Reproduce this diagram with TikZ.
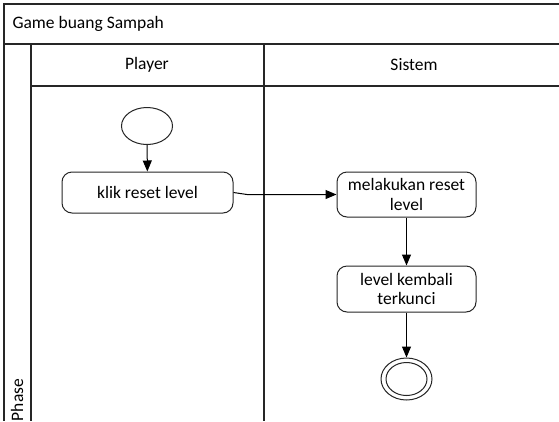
\documentclass[tikz,border=0pt]{standalone}
\usepackage{fontspec}
\setmainfont{Carlito}
\usetikzlibrary{arrows.meta,shapes.geometric}
\begin{document}
\begin{tikzpicture}[x=1pt,y=-1pt,
  lane/.style={draw=black!85,line width=1.3pt},
  act/.style={draw=black!85,line width=1pt,rounded corners=10pt,align=center,font=\fontsize{17.5}{19.5}\selectfont},
  lbl/.style={font=\fontsize{17.5}{19.5}\selectfont},
  flow/.style={draw=black,line width=1pt,-{Triangle[length=11pt,width=9pt]}}]
\useasboundingbox (0,0) rectangle (559,421);
\fill[white] (0,0) rectangle (559,421);
% swimlane frame
\draw[lane] (559,4) -- (4,4) -- (4,421);
\draw[lane] (4,44) -- (559,44);
\draw[lane] (31,86) -- (559,86);
\draw[lane] (31,44) -- (31,421);
\draw[lane] (264,44) -- (264,421);
\node[lbl,anchor=west] (title) at (9,24) {Game buang Sampah};
\node[lbl] (player) at (147,65) {Player};
\node[lbl] (sistem) at (414,65) {Sistem};
\node[lbl,rotate=90] (phase) at (17,400) {Phase};
% nodes
\node[draw=black!85,line width=1pt,ellipse,minimum width=51pt,minimum height=37pt,inner sep=0pt] (start) at (147,126) {};
\node[act,minimum width=171pt,minimum height=41pt] (klik) at (147.5,192.5) {klik reset level};
\node[act,minimum width=139pt,minimum height=45pt,inner sep=2pt] (reset) at (406.5,194.5) {melakukan reset\\level};
\node[act,minimum width=139pt,minimum height=46pt,inner sep=2pt] (kunci) at (406.5,289) {level kembali\\terkunci};
\node[draw=black!85,line width=1pt,ellipse,minimum width=51pt,minimum height=42pt,inner sep=0pt] (end) at (406.5,379) {};
\node[draw=black!85,line width=1pt,ellipse,minimum width=41pt,minimum height=33pt,inner sep=0pt] (endin) at (406.5,379) {};
\coordinate (bend) at (247,194.5);
% connectors
\draw[flow] (start) -- (klik);
\draw[flow] (klik.east) .. controls (240,193) .. (bend) -- (reset.west |- bend);
\draw[flow] (reset) -- (kunci);
\draw[flow] (kunci) -- (end);
\end{tikzpicture}
\end{document}
